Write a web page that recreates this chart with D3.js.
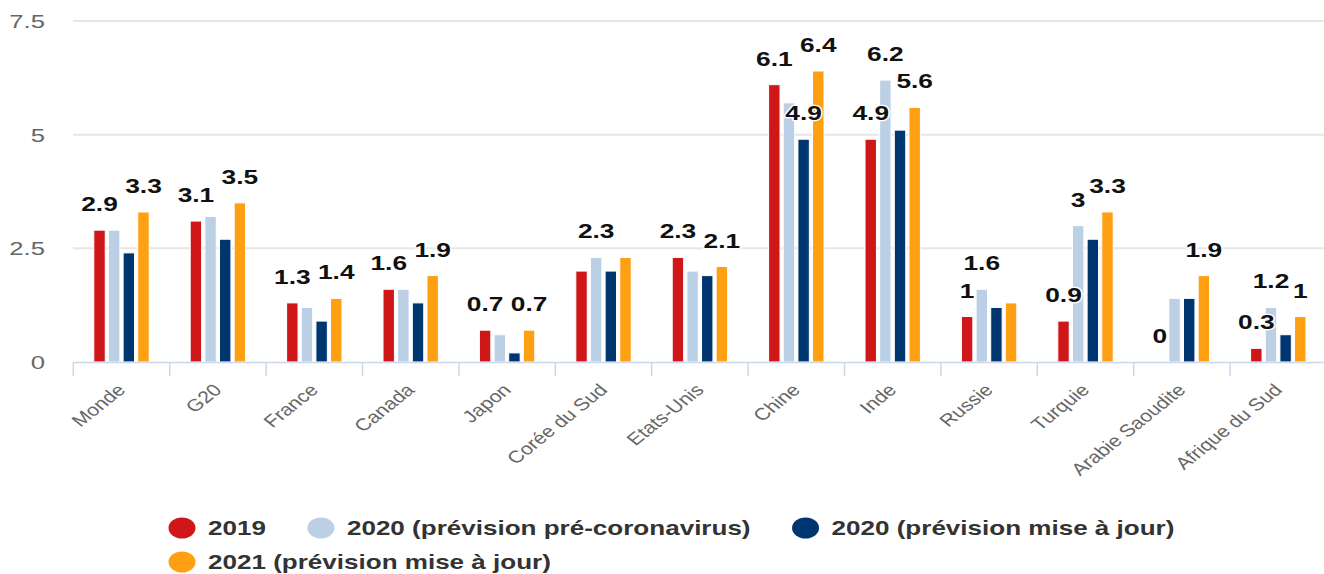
<!DOCTYPE html>
<html lang="fr">
	<head>
		<meta charset="utf-8">
		<title>Croissance du PIB - prévisions</title>
		<script src="https://d3js.org/d3.v7.min.js"></script>
		<style type="text/css">
			body {
				margin: 0;
				background: #fff;
			}
			text {
				font-family: 'Liberation Sans', Arial, sans-serif;
			}
			.ylab, .xlab {
				fill: #666;
			}
			.vlab {
				font-weight: bold;
				fill: #111;
				stroke: #fff;
				stroke-width: 2.5px;
				stroke-linejoin: round;
				paint-order: stroke;
			}
			.leg {
				font-weight: bold;
				fill: #333;
			}
		</style>
	</head>
	<body>
		<script type="text/javascript">

			var w = 1324;
			var h = 574;

			var categories = ["Monde", "G20", "France", "Canada", "Japon", "Corée du Sud", "Etats-Unis",
				"Chine", "Inde", "Russie", "Turquie", "Arabie Saoudite", "Afrique du Sud"];

			var seriesNames = ["2019", "2020 (prévision pré-coronavirus)", "2020 (prévision mise à jour)", "2021 (prévision mise à jour)"];
			var seriesColors = ["#cf1719", "#bcd0e5", "#00366f", "#ff9f12"];

			var s2019 = [2.9, 3.1, 1.3, 1.6, 0.7, 2.0, 2.3, 6.1, 4.9, 1.0, 0.9, 0.0, 0.3];
			var s2020pre = [2.9, 3.2, 1.2, 1.6, 0.6, 2.3, 2.0, 5.7, 6.2, 1.6, 3.0, 1.4, 1.2];
			var s2020maj = [2.4, 2.7, 0.9, 1.3, 0.2, 2.0, 1.9, 4.9, 5.1, 1.2, 2.7, 1.4, 0.6];
			var s2021 = [3.3, 3.5, 1.4, 1.9, 0.7, 2.3, 2.1, 6.4, 5.6, 1.3, 3.3, 1.9, 1.0];

			//which series carry a value label, per category
			var labelled = [[0, 3], [0, 3], [0, 3], [0, 3], [0, 3], [1], [0, 3], [0, 2, 3], [0, 1, 3], [0, 1], [0, 1, 3], [0, 3], [0, 1, 3]];

			var yTicks = [0, 2.5, 5, 7.5];
			var yTickLabels = ["0", "2.5", "5", "7.5"];

			var series = [s2019, s2020pre, s2020maj, s2021];

			//the source picture is stretched sideways, text follows it
			var sx = 1.35;
			var sxLab = 1.25;

			var x0 = d3.scaleBand()
						.domain(categories)
						.range([73.3, 1326.5]);

			var x1 = d3.scaleBand()
						.domain(d3.range(series.length))
						.range([0, x0.bandwidth()])
						.paddingInner(0.22)
						.paddingOuter(1.4);

			var y = d3.scaleLinear()
						.domain([0, 7.5])
						.range([362, 21]);

			var svg = d3.select("body")
						.append("svg")
						.attr("width", w)
						.attr("height", h);

			//gridlines
			svg.selectAll("line.grid")
			   .data(yTicks.filter(function(d) { return d > 0; }))
			   .enter()
			   .append("line")
			   .attr("class", "grid")
			   .attr("x1", 73)
			   .attr("x2", w)
			   .attr("y1", function(d) { return y(d); })
			   .attr("y2", function(d) { return y(d); })
			   .attr("stroke", "#e6e6e6")
			   .attr("stroke-width", 2);

			svg.selectAll("text.ylab")
			   .data(yTicks)
			   .enter()
			   .append("text")
			   .attr("class", "ylab")
			   .attr("text-anchor", "end")
			   .attr("font-size", 19)
			   .attr("transform", function(d) {
			   		return "translate(45," + (y(d) + 7) + ") scale(" + sx + ",1)";
			   })
			   .text(function(d, i) { return yTickLabels[i]; });

			//bars
			var groups = svg.selectAll("g.cat")
			   .data(categories)
			   .enter()
			   .append("g")
			   .attr("class", "cat")
			   .attr("transform", function(d) { return "translate(" + x0(d) + ",0)"; });

			groups.selectAll("rect")
			   .data(function(d, i) {
			   		return series.map(function(s, j) { return {s: j, v: s[i]}; });
			   })
			   .enter()
			   .append("rect")
			   .attr("x", function(d) { return x1(d.s); })
			   .attr("y", function(d) { return y(d.v); })
			   .attr("width", x1.bandwidth())
			   .attr("height", function(d) { return y(0) - y(d.v); })
			   .attr("fill", function(d) { return seriesColors[d.s]; })
			   .attr("stroke", "#fff")
			   .attr("stroke-width", 1);

			//x axis
			var xAxis = d3.axisBottom(x0)
						.tickSize(0)
						.tickFormat("");

			var gx = svg.append("g")
						.attr("transform", "translate(0," + y(0) + ")")
						.call(xAxis);
			gx.select(".domain").attr("stroke", "#ccd6eb").attr("stroke-width", 1.5);

			svg.selectAll("line.tick")
			   .data(categories.concat([null]))
			   .enter()
			   .append("line")
			   .attr("class", "tick")
			   .attr("x1", function(d, i) { return x0.range()[0] + i * x0.step(); })
			   .attr("x2", function(d, i) { return x0.range()[0] + i * x0.step(); })
			   .attr("y1", y(0))
			   .attr("y2", y(0) + 14)
			   .attr("stroke", "#ccd6eb")
			   .attr("stroke-width", 1.5);

			svg.selectAll("text.xlab")
			   .data(categories)
			   .enter()
			   .append("text")
			   .attr("class", "xlab")
			   .attr("text-anchor", "end")
			   .attr("font-size", 17)
			   .attr("transform", function(d) {
			   		return "translate(" + (x0(d) + x0.bandwidth() / 2 + 5) + ",391) scale(" + sxLab + ",1) rotate(-45)";
			   })
			   .text(function(d) { return d; });

			//value labels
			groups.selectAll("text.vlab")
			   .data(function(d, i) {
			   		return labelled[i].map(function(j) { return {s: j, v: series[j][i]}; });
			   })
			   .enter()
			   .append("text")
			   .attr("class", "vlab")
			   .attr("text-anchor", "middle")
			   .attr("font-size", 19.5)
			   .attr("transform", function(d) {
			   		return "translate(" + (x1(d.s) + x1.bandwidth() / 2) + "," + (y(d.v) - 19) + ") scale(" + sx + ",1)";
			   })
			   .text(function(d) { return d3.format("")(d.v); });

			//legend, 3 items on the first row
			var legX = 182;
			var legRow = 0;
			seriesNames.forEach(function(name, i) {
				if (i == 3) {
					legX = 182;
					legRow = 1;
				}
				var cy = 528 + legRow * 34;
				svg.append("ellipse")
				   .attr("cx", legX)
				   .attr("cy", cy)
				   .attr("rx", 10 * sx)
				   .attr("ry", 10.5)
				   .attr("fill", seriesColors[i]);
				var t = svg.append("text")
				   .attr("class", "leg")
				   .attr("font-size", 19.3)
				   .attr("transform", "translate(" + (legX + 26) + "," + (cy + 7) + ") scale(" + sx + ",1)")
				   .text(name);
				legX = legX + 26 + t.node().getComputedTextLength() * sx + 55;
			});
		</script>
	</body>
</html>
